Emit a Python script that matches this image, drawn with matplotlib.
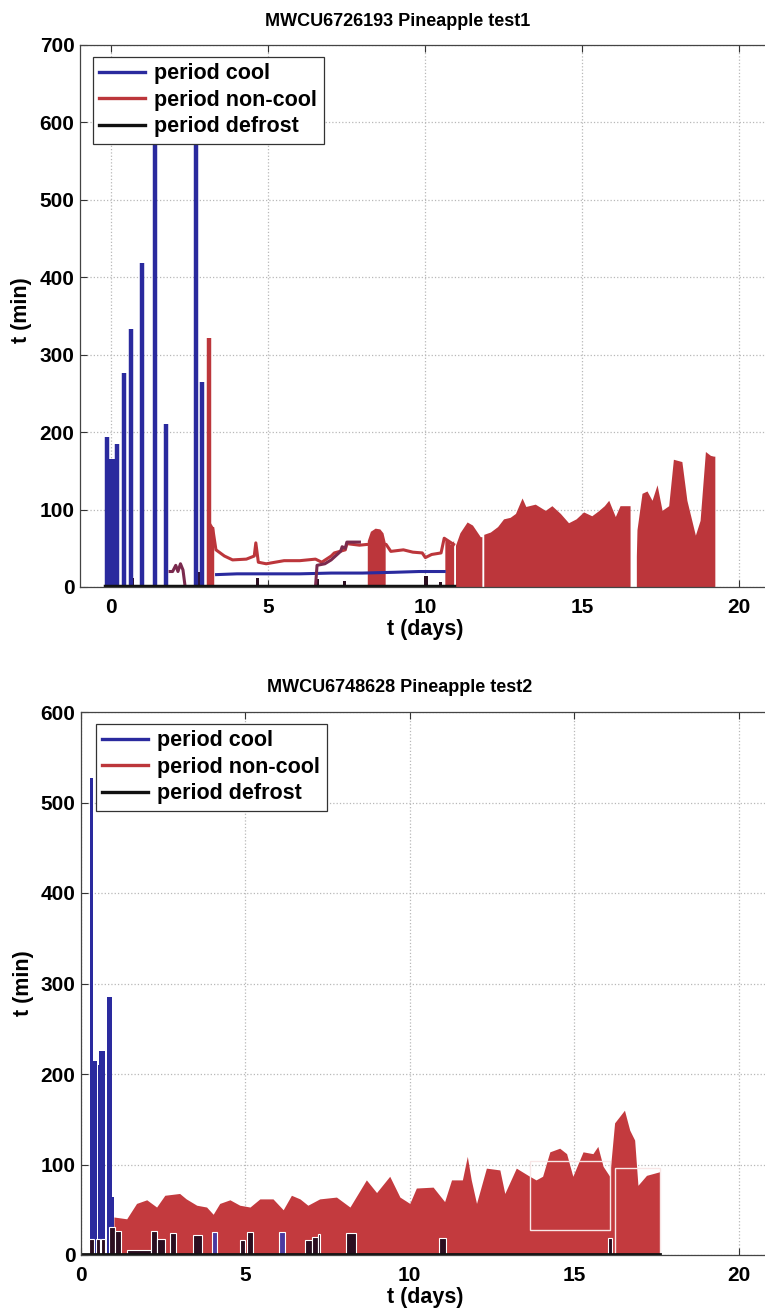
import matplotlib
matplotlib.use('Agg')
import matplotlib.pyplot as plt
from matplotlib.lines import Line2D
from matplotlib.patches import Rectangle

plt.rcParams['font.family'] = ['Liberation Sans', 'DejaVu Sans']
plt.rcParams['font.weight'] = 'bold'

# ---------------- data: top chart (test1) ----------------
top_title = "MWCU6726193 Pineapple test1"
top_cool_t = [-0.13, -0.08, -0.03, 0.02, 0.07, 0.12, 0.18, 0.39, 0.64, 0.96, 1.40, 1.74, 2.68, 2.89]
top_cool_v = [194, 165, 165, 165, 165, 160, 185, 276, 333, 418, 640, 210, 620, 265]
top_cool_base_t = [3.35, 4.0, 5.0, 6.0, 7.0, 8.0, 9.0, 9.8, 10.2, 10.6]
top_cool_base_v = [16, 17, 17, 17, 18, 18, 19, 20, 20, 20]
top_noncool_spike_t = [3.12, 3.19]
top_noncool_spike_v = [321, 78]
top_noncool_line_t = [3.15, 3.23, 3.33, 3.6, 3.86, 4.3, 4.55, 4.6, 4.68, 4.93, 5.5, 6.0, 6.5, 6.7,
                      7.0, 7.1, 7.45, 7.5, 7.9, 8.15, 8.75, 8.9, 9.3, 9.6, 9.9, 10.0, 10.2, 10.5, 10.6, 10.9]
top_noncool_line_v = [80, 75, 48, 40, 35, 36, 40, 57, 32, 30, 34, 34, 36, 32,
                      40, 44, 48, 56, 54, 55, 55, 46, 48, 45, 44, 38, 42, 44, 63, 55]
top_maroon_t = [1.87, 1.95, 2.05, 2.12, 2.2, 2.28, 2.35]
top_maroon_v = [20, 20, 28, 20, 30, 22, 0]
top_maroon2_t = [6.5, 6.55, 6.8, 7.0, 7.3, 7.35, 7.45, 7.5, 7.9]
top_maroon2_v = [0, 28, 30, 35, 46, 52, 50, 58, 58]
top_fill_segments = [
    ([8.15, 8.25, 8.4, 8.55, 8.65, 8.72], [60, 72, 76, 75, 70, 58]),
    ([10.62, 10.7, 10.8, 10.9], [60, 62, 55, 60]),
    ([10.96, 11.1, 11.33, 11.5, 11.75, 11.8], [54, 70, 84, 80, 65, 65]),
    ([11.86, 12.07, 12.3, 12.49, 12.7, 12.87, 13.08, 13.2, 13.5, 13.82, 14.03, 14.3, 14.56,
      14.8, 15.04, 15.3, 15.5, 15.7, 15.84, 16.05, 16.2, 16.48, 16.52],
     [68, 71, 78, 88, 90, 95, 115, 104, 107, 99, 105, 95, 83, 88, 97, 92, 98, 105, 112,
      91, 105, 105, 105]),
    ([16.72, 16.74, 16.9, 17.06, 17.22, 17.38, 17.54, 17.75, 17.9, 18.17, 18.33, 18.6,
      18.75, 18.92, 19.08, 19.18, 19.22],
     [40, 74, 121, 124, 112, 132, 99, 105, 165, 162, 112, 67, 86, 175, 170, 169, 169]),
]
top_def_t0 = [-0.2, 0.05, 0.62, 2.67, 4.62, 6.5, 7.38, 9.95, 10.45]
top_def_w = [0.25, 0.13, 0.1, 0.15, 0.08, 0.1, 0.08, 0.12, 0.08]
top_def_h = [7, 18, 12, 20, 12, 10, 8, 14, 6]
top_def_base_t = [-0.2, 10.9]
top_def_base_v = [1.5, 1.5]

# ---------------- data: bottom chart (test2) ----------------
bot_title = "MWCU6748628 Pineapple test2"
bot_cool_t0 = [0.27, 0.38, 0.52, 0.56, 0.80, 0.95]
bot_cool_w = [0.10, 0.12, 0.04, 0.18, 0.13, 0.06]
bot_cool_v = [527, 214, 210, 225, 285, 64]
bot_noncool_t = [1.0, 1.39, 1.69, 2.0, 2.3, 2.55, 3.0, 3.2, 3.52, 3.82, 4.02, 4.22, 4.53, 4.83,
                 5.14, 5.44, 5.84, 6.15, 6.4, 6.66, 6.9, 7.26, 7.77, 8.18, 8.68, 8.99, 9.39,
                 9.7, 10.0, 10.2, 10.71, 11.06, 11.27, 11.6, 11.75, 11.87, 12.03, 12.33,
                 12.74, 12.89, 13.24, 13.6, 13.84, 14.04, 14.26, 14.56, 14.77, 14.96, 15.27,
                 15.57, 15.72, 15.88, 16.08, 16.23, 16.53, 16.69, 16.84, 16.94, 17.2, 17.6]
bot_noncool_v = [42, 40, 57, 61, 53, 66, 68, 62, 55, 53, 45, 57, 61, 55,
                 53, 62, 62, 50, 66, 62, 55, 62, 64, 53, 83, 69, 87,
                 64, 57, 74, 75, 59, 83, 83, 109, 83, 57, 96,
                 94, 68, 96, 88, 83, 87, 114, 118, 112, 87, 114,
                 112, 120, 98, 87, 146, 160, 138, 127, 77, 88, 92]
bot_box1_t = [13.65, 16.08]
bot_box1_v = [28, 104]
bot_box2_t = [16.23, 17.6]
bot_box2_v = [0, 96]
bot_def_t0 = [0.25, 0.45, 0.62, 0.86, 1.03, 1.39, 2.14, 2.30, 2.70, 3.40, 4.85, 5.04,
              6.81, 7.02, 7.22, 8.05, 10.90, 16.02]
bot_def_w = [0.15, 0.12, 0.12, 0.17, 0.20, 0.75, 0.16, 0.25, 0.2, 0.27, 0.13, 0.2,
             0.21, 0.2, 0.06, 0.31, 0.2, 0.13]
bot_def_h = [18, 18, 18, 31, 27, 5, 26, 18, 24, 22, 17, 25, 17, 20, 23, 24, 19, 19]
bot_blue_t0 = [3.97, 6.03]
bot_blue_w = [0.17, 0.17]
bot_blue_h = [25, 25]
bot_def_base_t = [0.0, 17.6]
bot_def_base_v = [1.0, 1.0]

legend_labels = ["period cool", "period non-cool", "period defrost"]

BLUE = '#2a2a9e'
RED = '#bc363b'
RED2 = '#c33a3e'
MAROON = '#7a2a4e'
DEF = '#2b0e20'
BLACK = '#111111'

W, H = 765, 1309
fig = plt.figure(figsize=(W / 100, H / 100), dpi=100)


def px_axes(left, top, right, bottom):
    return fig.add_axes([left / W, 1 - bottom / H, (right - left) / W, (bottom - top) / H])


def style(ax, xlim, ylim, yticks):
    ax.set_xlim(*xlim)
    ax.set_ylim(*ylim)
    ax.set_xticks([0, 5, 10, 15, 20])
    ax.set_yticks(yticks)
    ax.set_axisbelow(True)
    ax.grid(True, linestyle=':', color='#b8b8b8', linewidth=0.9)
    ax.tick_params(direction='in', length=5, width=0.8, top=True, right=True,
                   labelsize=15, colors='#333333', labelcolor='black')
    ax.tick_params(axis='x', pad=8)
    ax.tick_params(axis='y', pad=4)
    for s in ax.spines.values():
        s.set_color('#444444')
        s.set_linewidth(0.9)
    for lab in ax.get_xticklabels() + ax.get_yticklabels():
        lab.set_fontweight('bold')


def add_legend(ax, x, y):
    handles = [Line2D([], [], color=BLUE, lw=2.4),
               Line2D([], [], color=RED, lw=2.4),
               Line2D([], [], color=BLACK, lw=2.4)]
    leg = ax.legend(handles, legend_labels, loc='upper left',
                    bbox_to_anchor=(x / W, 1 - y / H), bbox_transform=fig.transFigure,
                    borderaxespad=0, fancybox=False, framealpha=1, edgecolor='#333333',
                    prop={'size': 15.5, 'weight': 'bold'}, handlelength=2.1,
                    handletextpad=0.45, labelspacing=0.25, borderpad=0.3)
    leg.get_frame().set_linewidth(0.9)


# ---------------- top axes ----------------
ax1 = px_axes(80, 45, 777, 587)
style(ax1, (-1, 21.2), (0, 700), range(0, 701, 100))
for seg_t, seg_v in top_fill_segments:
    ax1.fill_between(seg_t, 0, seg_v, color=RED, linewidth=0)
ax1.plot(top_noncool_line_t, top_noncool_line_v, color=RED, lw=2.2)
ax1.plot(top_cool_base_t, top_cool_base_v, color=BLUE, lw=2.2)
ax1.vlines(top_cool_t, 0, top_cool_v, color=BLUE, lw=3.2)
ax1.vlines(top_noncool_spike_t, 0, top_noncool_spike_v, color=RED, lw=3.2)
ax1.plot(top_maroon_t, top_maroon_v, color=MAROON, lw=2.2)
ax1.plot(top_maroon2_t, top_maroon2_v, color=MAROON, lw=2.2)
ax1.bar(top_def_t0, top_def_h, width=top_def_w, align='edge', color=DEF, linewidth=0)
ax1.plot(top_def_base_t, top_def_base_v, color=BLACK, lw=2.5)
add_legend(ax1, 93, 57)
fig.text(398 / W, 1 - 21 / H, top_title, ha='center', va='center', fontsize=13, fontweight='bold')
fig.text(425 / W, 1 - 629 / H, "t (days)", ha='center', va='center', fontsize=15.5, fontweight='bold')
fig.text(22 / W, 1 - 310 / H, "t (min)", ha='center', va='center', rotation=90, fontsize=15.5,
         fontweight='bold')

# ---------------- bottom axes ----------------
ax2 = px_axes(81, 712, 778, 1255)
style(ax2, (0, 21.2), (0, 600), range(0, 601, 100))
ax2.fill_between(bot_noncool_t, 0, bot_noncool_v, color=RED2, linewidth=0)
ax2.add_patch(Rectangle((bot_box1_t[0], bot_box1_v[0]), bot_box1_t[1] - bot_box1_t[0],
                        bot_box1_v[1] - bot_box1_v[0], fill=False, edgecolor='#f8e6e6', lw=1.0))
ax2.add_patch(Rectangle((bot_box2_t[0], bot_box2_v[0]), bot_box2_t[1] - bot_box2_t[0],
                        bot_box2_v[1] - bot_box2_v[0], fill=False, edgecolor='#f8e6e6', lw=1.0))
ax2.bar(bot_cool_t0, bot_cool_v, width=bot_cool_w, align='edge', color=BLUE, linewidth=0)
ax2.bar(bot_blue_t0, bot_blue_h, width=bot_blue_w, align='edge', color='#4b3aa0',
        edgecolor='white', linewidth=0.8)
ax2.bar(bot_def_t0, bot_def_h, width=bot_def_w, align='edge', color=DEF,
        edgecolor='white', linewidth=0.8)
ax2.plot(bot_def_base_t, bot_def_base_v, color=BLACK, lw=2.0)
add_legend(ax2, 96, 724)
fig.text(400 / W, 1 - 688 / H, bot_title, ha='center', va='center', fontsize=13, fontweight='bold')
fig.text(425 / W, 1 - 1297 / H, "t (days)", ha='center', va='center', fontsize=15.5, fontweight='bold')
fig.text(23 / W, 1 - 983 / H, "t (min)", ha='center', va='center', rotation=90, fontsize=15.5,
         fontweight='bold')

fig.savefig('out.png', dpi=100)
